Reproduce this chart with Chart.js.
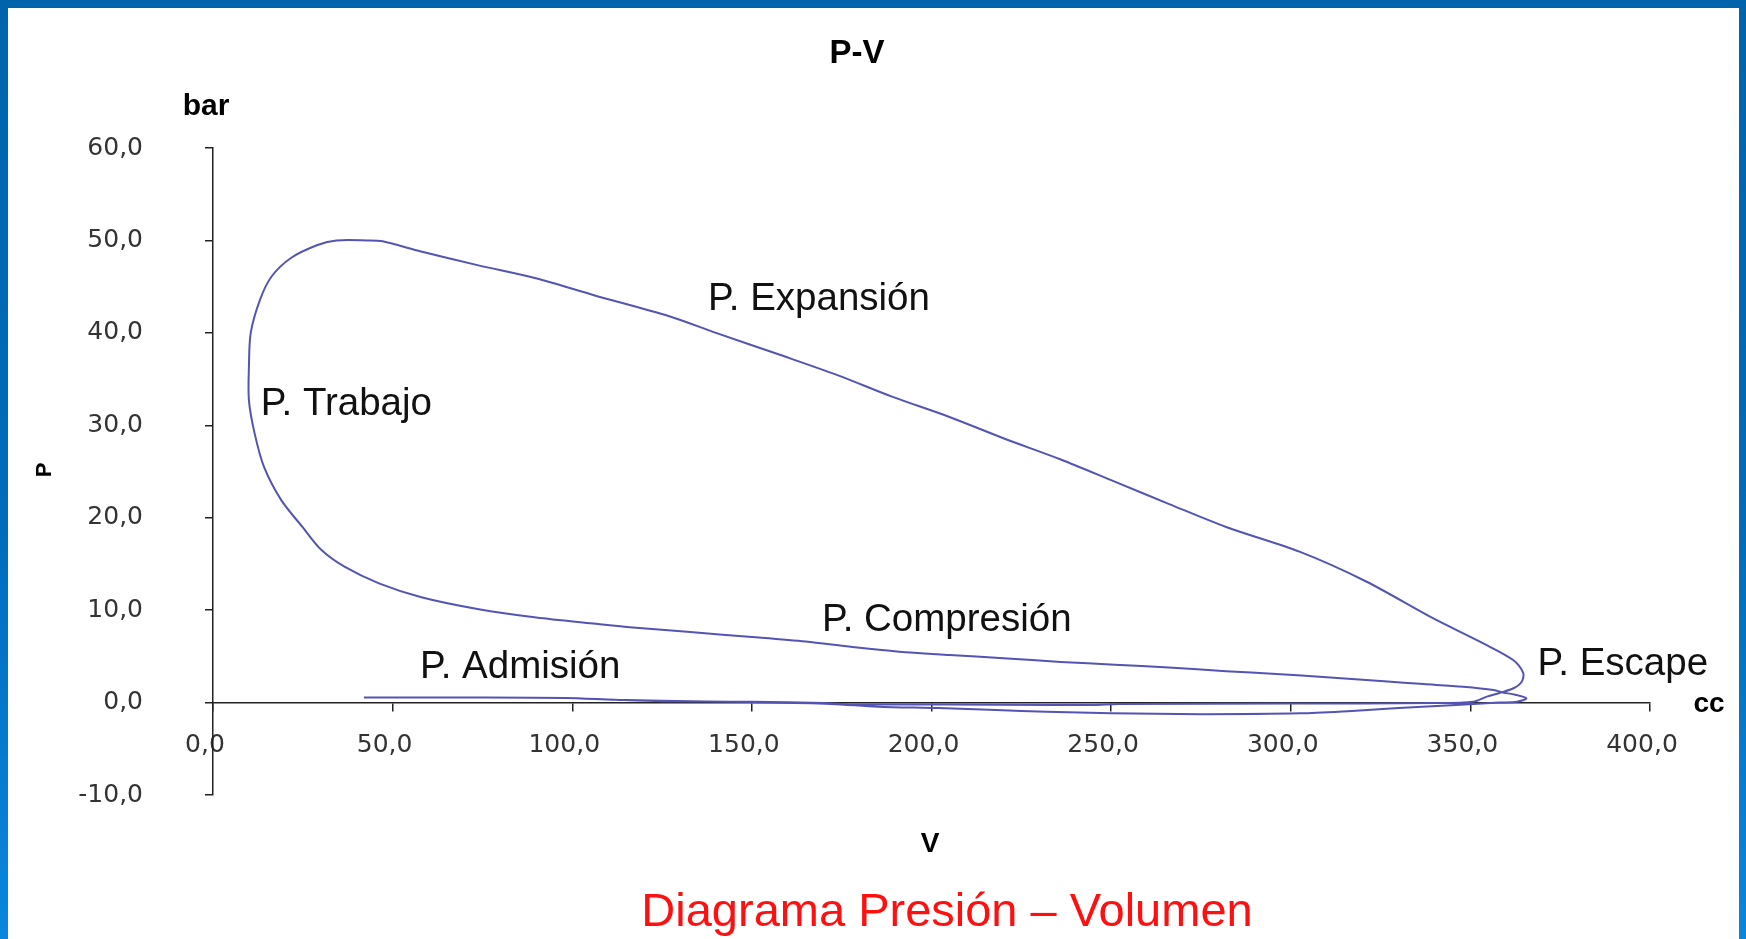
<!DOCTYPE html>
<html>
<head>
<meta charset="utf-8">
<script src="https://cdn.jsdelivr.net/npm/chart.js@4.4.1/dist/chart.umd.min.js"></script>
<style>
html,body{margin:0;padding:0;width:1746px;height:939px;overflow:hidden;}
body{background:linear-gradient(to bottom,#0064ad 0%,#006cba 55%,#0a86de 100%);position:relative;}
#wrap{position:absolute;left:8px;top:8px;width:1731px;height:931px;background:#ffffff;}
canvas{display:block;}
</style>
</head>
<body>
<div id="wrap"><canvas id="c" width="1731" height="931"></canvas></div>
<script>
// Cycle, in drawing order: admission, compression, combustion/expansion, exhaust
const volume = [
  42, 70, 98, 112, 125, 150, 172, 185, 202, 218, 232, 250, 275, 302.6, 317, 330, 346, 358, 363, 365.6,
  362.5, 359, 356.5, 348, 337, 326, 310, 296, 282, 266, 251, 236, 220, 205, 191, 178, 165, 150, 132, 116,
  105.8, 90, 74, 58, 46.2, 36.6, 30.2, 24.9, 19, 14.2, 11.6, 10, 10, 10.5, 13.1, 16.3, 21.7, 29.1, 34.4, 42.9,
  47.2, 57.9, 73.9, 89.9, 105.8, 127, 140, 158, 174, 189, 205, 220, 236, 251, 266, 282, 302.6, 321, 339.7, 353.6,
  361.9, 364.7, 364.3, 362, 358.3, 354.6, 350.8,
  340, 300, 252, 245, 232, 205, 178, 170, 150, 125, 112, 98, 70, 42
];
const pressure = [
  0.55, 0.55, 0.5, 0.3, 0.2, 0.05, -0.15, -0.45, -0.6, -0.8, -1.0, -1.15, -1.25, -1.16, -0.9, -0.6, -0.26, 0, 0.1, 0.45,
  0.85, 1.1, 1.35, 1.7, 2.0, 2.3, 2.75, 3.1, 3.4, 3.8, 4.1, 4.4, 4.8, 5.15, 5.5, 6.0, 6.6, 7.1, 7.65, 8.15,
  8.55, 9.2, 10.1, 11.4, 12.9, 14.7, 16.5, 19.0, 21.9, 25.5, 29.1, 32.7, 36.3, 40.0, 43.6, 46.1, 48.1, 49.5, 50.0, 50.0,
  49.9, 48.8, 47.3, 45.9, 44.1, 41.8, 40.0, 37.6, 35.4, 33.1, 30.9, 28.6, 26.3, 23.9, 21.5, 19.0, 16.3, 13.1, 9.1, 6.4,
  4.6, 3.2, 2.26, 1.55, 1.07, 0.64, 0.1,
  -0.05, -0.1, -0.15, -0.25, -0.25, -0.22, -0.2, -0.05, 0.1, 0.15, 0.3, 0.5, 0.55, 0.55
];
const xTicks = [0, 50, 100, 150, 200, 250, 300, 350, 400];
const yTicks = [-10, 0, 10, 20, 30, 40, 50, 60];
const chartTitle = 'P-V';
const yUnit = 'bar';
const xUnit = 'cc';
const yTitle = 'P';
const xTitle = 'V';
const caption = 'Diagrama Presión – Volumen';
const phaseNames = ['P. Expansión', 'P. Trabajo', 'P. Compresión', 'P. Admisión', 'P. Escape'];
const phaseV = [137.8, 13.3, 169.5, 57.6, 368.7];
const phaseP = [42.5, 31.1, 7.75, 2.66, 3.0];

const fmt = v => Number(v).toFixed(1).replace('.', ',');

const textPlugin = {
  id: 'texts',
  afterDraw(chart) {
    const {ctx, scales: {x, y}} = chart;
    ctx.save();
    // phase labels
    ctx.fillStyle = '#111';
    ctx.font = '38.5px "Liberation Sans", Arial, sans-serif';
    ctx.textAlign = 'left';
    ctx.textBaseline = 'alphabetic';
    phaseNames.forEach((t, i) => ctx.fillText(t, x.getPixelForValue(phaseV[i]), y.getPixelForValue(phaseP[i])));
    // title and units
    ctx.fillStyle = '#000';
    ctx.textAlign = 'center';
    ctx.textBaseline = 'middle';
    ctx.font = 'bold 33px "Liberation Sans", Arial, sans-serif';
    ctx.fillText(chartTitle, 849, 46);
    ctx.font = 'bold 30px "Liberation Sans", Arial, sans-serif';
    ctx.textBaseline = 'alphabetic';
    ctx.fillText(yUnit, 198, 107);
    ctx.textBaseline = 'middle';
    ctx.font = 'bold 28px "Liberation Sans", Arial, sans-serif';
    ctx.fillText(xUnit, 1701, 696);
    ctx.fillText(xTitle, 922, 836);
    ctx.save();
    ctx.translate(37, 462);
    ctx.rotate(-Math.PI / 2);
    ctx.font = 'bold 22px "Liberation Sans", Arial, sans-serif';
    ctx.fillText(yTitle, 0, 0);
    ctx.restore();
    // caption
    ctx.fillStyle = '#ff1010';
    ctx.font = '47px "Liberation Sans", Arial, sans-serif';
    ctx.textBaseline = 'alphabetic';
    ctx.fillText(caption, 939, 918);
    ctx.restore();
  }
};

new Chart(document.getElementById('c').getContext('2d'), {
  type: 'scatter',
  data: {
    datasets: [{
      data: volume.map((v, i) => ({x: v, y: pressure[i]})),
      showLine: true,
      borderColor: '#5454b4',
      borderWidth: 2,
      pointRadius: 0,
      pointHoverRadius: 0,
      fill: false,
      tension: 0.3
    }]
  },
  options: {
    responsive: false,
    animation: false,
    events: [],
    layout: {padding: {left: 0, right: 89, top: 140, bottom: 144}},
    plugins: {legend: {display: false}, tooltip: {enabled: false}, title: {display: false}},
    scales: {
      x: {
        type: 'linear', min: 0, max: 400,
        position: {y: 0},
        afterBuildTicks: s => { s.ticks = xTicks.map(v => ({value: v})); },
        grid: {drawOnChartArea: false, drawTicks: true, tickLength: 8, color: '#222', lineWidth: 1.5},
        border: {display: true, color: '#222', width: 1.5},
        ticks: {font: {family: 'DejaVu Sans', size: 25}, color: '#333', padding: 20, labelOffset: -8,
                maxRotation: 0, autoSkip: false, callback: v => fmt(v)}
      },
      y: {
        type: 'linear', min: -10, max: 60, position: 'left',
        afterBuildTicks: s => { s.ticks = yTicks.map(v => ({value: v})); },
        afterFit: s => { s.width = 205; },
        grid: {drawOnChartArea: false, drawTicks: true, tickLength: 8, color: '#222', lineWidth: 1.5},
        border: {display: true, color: '#222', width: 1.5},
        ticks: {font: {family: 'DejaVu Sans', size: 25}, color: '#333', padding: 62, autoSkip: false,
                callback: v => fmt(v)}
      }
    }
  },
  plugins: [textPlugin]
});
</script>
</body>
</html>
